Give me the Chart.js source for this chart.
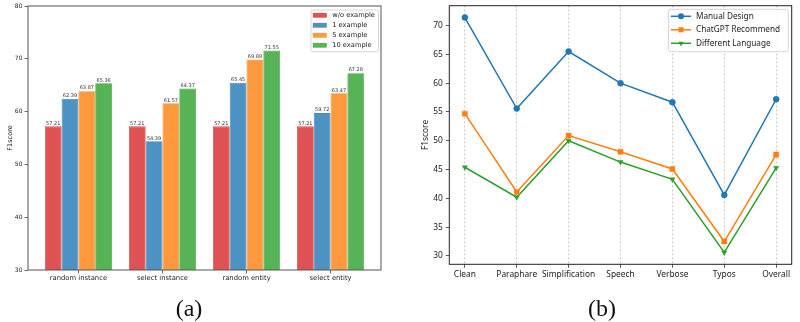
<!DOCTYPE html>
<html><head><meta charset="utf-8">
<script src="https://cdn.jsdelivr.net/npm/chart.js@4"></script>
<style>
html,body{margin:0;padding:0;background:#fff;width:800px;height:322px;overflow:hidden;}
#wa{position:absolute;left:0;top:0;width:400px;height:300px;}
#wb{position:absolute;left:400px;top:0;width:400px;height:300px;}
.cap{position:absolute;top:294px;font-family:"Liberation Serif",serif;font-size:24px;line-height:28px;width:60px;text-align:center;color:#111;}
</style></head><body>
<div id="wa"><canvas id="ca" width="400" height="300"></canvas></div>
<div id="wb"><canvas id="cb" width="400" height="300"></canvas></div>
<div class="cap" style="left:159px">(a)</div>
<div class="cap" style="left:572px">(b)</div>
<script>
// ---- data: chart (a)
const barCategories = ['random instance', 'select instance', 'random entity', 'select entity'];
const barSeriesNames = ['w/o example', '1 example', '5 example', '10 example'];
const woExample = [57.21, 57.21, 57.21, 57.21];
const oneExample = [62.39, 54.39, 65.45, 59.72];
const fiveExample = [63.87, 61.57, 69.88, 63.47];
const tenExample = [65.36, 64.37, 71.55, 67.28];
const barYTicks = [30, 40, 50, 60, 70, 80];

// ---- data: chart (b)
const lineCategories = ['Clean', 'Paraphare', 'Simplification', 'Speech', 'Verbose', 'Typos', 'Overall'];
const lineSeriesNames = ['Manual Design', 'ChatGPT Recommend', 'Different Language'];
const manualDesign = [71.4, 55.6, 65.5, 60.0, 56.7, 40.6, 57.21];
const chatgptRecommend = [54.7, 41.1, 50.9, 48.1, 45.1, 32.5, 47.6];
const differentLanguage = [45.4, 40.2, 50.0, 46.3, 43.3, 30.6, 45.3];
const lineYTicks = [30, 35, 40, 45, 50, 55, 60, 65, 70];

// ---- styles
const barFill = ['rgba(214,39,40,0.8)', 'rgba(31,119,180,0.8)', 'rgba(255,127,14,0.8)', 'rgba(44,160,44,0.8)'];
const barEdge = ['rgba(214,39,40,0.85)', 'rgba(31,119,180,0.85)', 'rgba(255,127,14,0.85)', 'rgba(44,160,44,0.85)'];
const lineColors = ['#1f77b4', '#ff7f0e', '#2ca02c'];
const lineMarkers = ['circle', 'rect', 'triangle'];

function fixY(w) { return s => { s.width = w; s.paddingTop = 0; s.paddingBottom = 0; s.paddingLeft = 0; s.paddingRight = 0; }; }
function fixX(h) { return s => { s.height = h; s.paddingTop = 0; s.paddingBottom = 0; s.paddingLeft = 0; s.paddingRight = 0; }; }

function framePlugin(color, lw) {
  return { id: 'frame', afterDraw(chart) {
    const a = chart.chartArea, c = chart.ctx;
    c.save(); c.strokeStyle = color; c.lineWidth = lw;
    c.strokeRect(a.left, a.top, a.right - a.left, a.bottom - a.top);
    c.restore();
  } };
}

function roundRect(c, x, y, w, h, r) {
  c.beginPath();
  c.moveTo(x + r, y); c.lineTo(x + w - r, y); c.quadraticCurveTo(x + w, y, x + w, y + r);
  c.lineTo(x + w, y + h - r); c.quadraticCurveTo(x + w, y + h, x + w - r, y + h);
  c.lineTo(x + r, y + h); c.quadraticCurveTo(x, y + h, x, y + h - r);
  c.lineTo(x, y + r); c.quadraticCurveTo(x, y, x + r, y); c.closePath();
}

function drawMarker(c, style, x, y, r, color) {
  c.save(); c.fillStyle = color; c.beginPath();
  if (style === 'circle') { c.arc(x, y, r, 0, Math.PI * 2); }
  else if (style === 'rect') { const s = r * Math.SQRT1_2; c.rect(x - s, y - s, 2 * s, 2 * s); }
  else { // triangle down
    c.moveTo(x - r * 0.87, y - r * 0.5); c.lineTo(x + r * 0.87, y - r * 0.5); c.lineTo(x, y + r); c.closePath();
  }
  c.fill(); c.restore();
}

const barLabelPlugin = { id: 'barLabels', afterDatasetsDraw(chart) {
  const c = chart.ctx;
  c.save(); c.font = '5px "DejaVu Sans"'; c.fillStyle = '#333'; c.textAlign = 'center'; c.textBaseline = 'bottom';
  chart.data.datasets.forEach((ds, k) => {
    chart.getDatasetMeta(k).data.forEach((el, i) => {
      c.fillText(ds.data[i].y.toFixed(2), el.x, el.y - 0.5);
    });
  });
  c.restore();
} };

const legendA = { id: 'legendA', afterDraw(chart) {
  const c = chart.ctx;
  c.save();
  roundRect(c, 311, 10, 67.5, 41.7, 2);
  c.fillStyle = 'rgba(255,255,255,0.8)'; c.fill();
  c.strokeStyle = '#cccccc'; c.lineWidth = 0.8; c.stroke();
  c.font = '6.7px "DejaVu Sans"'; c.textBaseline = 'middle'; c.textAlign = 'left';
  chart.data.datasets.forEach((ds, k) => {
    const y = 15.3 + k * 10;
    c.fillStyle = ds.backgroundColor; c.fillRect(312.8, y - 2.4, 14, 4.8);
    c.fillStyle = '#222'; c.fillText(ds.label, 332.2, y);
  });
  c.restore();
} };

const legendB = { id: 'legendB', afterDraw(chart) {
  const c = chart.ctx;
  c.save();
  roundRect(c, 268.5, 9.3, 119.8, 42.4, 2.5);
  c.fillStyle = 'rgba(255,255,255,0.8)'; c.fill();
  c.strokeStyle = '#cccccc'; c.lineWidth = 0.8; c.stroke();
  c.font = '8.2px "Noto Sans"'; c.textBaseline = 'middle'; c.textAlign = 'left';
  chart.data.datasets.forEach((ds, k) => {
    const y = 16.3 + k * 13.5;
    c.strokeStyle = ds.borderColor; c.lineWidth = 1.5;
    c.beginPath(); c.moveTo(271, y); c.lineTo(291, y); c.stroke();
    drawMarker(c, lineMarkers[k], 281, y, k === 1 ? 3.6 : 3, ds.borderColor);
    c.fillStyle = '#222'; c.fillText(ds.label, 296, y);
  });
  c.restore();
} };

// ---- chart (a)
const barSeries = [woExample, oneExample, fiveExample, tenExample];
new Chart(document.getElementById('ca'), {
  type: 'bar',
  data: { datasets: barSeries.map((vals, k) => ({
    label: barSeriesNames[k],
    data: vals.map((v, i) => ({ x: i, y: v })),
    backgroundColor: barFill[k], borderColor: barEdge[k], borderWidth: 0.8,
    categoryPercentage: 0.8, barPercentage: 1.0
  })) },
  options: {
    responsive: false, animation: false, devicePixelRatio: 1,
    layout: { padding: { left: 0, top: 6, right: 19, bottom: 0 } },
    plugins: { legend: { display: false }, tooltip: { enabled: false } },
    scales: {
      x: {
        type: 'linear', min: -0.6, max: 3.6, offset: false,
        afterBuildTicks: s => { s.ticks = barCategories.map((c, i) => ({ value: i })); },
        afterFit: fixX(30),
        ticks: { callback: v => barCategories[v], font: { family: 'DejaVu Sans', size: 6.8 }, color: '#222', padding: 1, maxRotation: 0, autoSkip: false },
        grid: { drawOnChartArea: false, drawTicks: true, tickLength: 3.5, tickColor: '#444', tickWidth: 0.8, offset: false },
        border: { display: false }
      },
      y: {
        min: 30, max: 80,
        afterBuildTicks: s => { s.ticks = barYTicks.map(v => ({ value: v })); },
        afterFit: fixY(28),
        ticks: { font: { family: 'DejaVu Sans', size: 6 }, color: '#222', padding: 2 },
        title: { display: true, text: 'F1score', font: { family: 'DejaVu Sans', size: 6.5 }, color: '#222', padding: { top: 6, bottom: 0 } },
        grid: { drawOnChartArea: false, drawTicks: true, tickLength: 3.5, tickColor: '#444', tickWidth: 0.8 },
        border: { display: false }
      }
    }
  },
  plugins: [barLabelPlugin, framePlugin('#555', 1), legendA]
});

// ---- chart (b)
const lineSeries = [manualDesign, chatgptRecommend, differentLanguage];
new Chart(document.getElementById('cb'), {
  type: 'line',
  data: { datasets: lineSeries.map((vals, k) => ({
    label: lineSeriesNames[k],
    data: vals.map((v, i) => ({ x: i, y: v })),
    borderColor: lineColors[k], backgroundColor: lineColors[k], borderWidth: 1.5,
    pointStyle: lineMarkers[k], pointRadius: k === 1 ? 3.6 : 3,
    pointRotation: k === 2 ? 180 : 0,
    pointBackgroundColor: lineColors[k], pointBorderColor: lineColors[k], pointBorderWidth: 0.5,
    fill: false, tension: 0
  })) },
  options: {
    responsive: false, animation: false, devicePixelRatio: 1,
    layout: { padding: { left: 0, top: 5.7, right: 8.3, bottom: 0 } },
    plugins: { legend: { display: false }, tooltip: { enabled: false } },
    scales: {
      x: {
        type: 'linear', min: -0.3, max: 6.3, offset: false,
        afterBuildTicks: s => { s.ticks = lineCategories.map((c, i) => ({ value: i })); },
        afterFit: fixX(35.7),
        ticks: { callback: v => lineCategories[v], font: { family: 'Noto Sans', size: 8.4 }, color: '#222', padding: 1.5, maxRotation: 0, autoSkip: false },
        grid: { drawOnChartArea: true, color: '#bdbdbd', lineWidth: 1, drawTicks: true, tickLength: 3.5, tickColor: '#333', tickWidth: 0.8, tickBorderDash: [] },
        border: { display: false, dash: [1.5, 2.5] }
      },
      y: {
        min: 28.55, max: 73.45,
        afterBuildTicks: s => { s.ticks = lineYTicks.map(v => ({ value: v })); },
        afterFit: fixY(49.3),
        ticks: { font: { family: 'Noto Sans', size: 8.4 }, color: '#222', padding: 3 },
        title: { display: true, text: 'F1score', font: { family: 'Noto Sans', size: 8.4 }, color: '#222', padding: { top: 21, bottom: 0 } },
        grid: { drawOnChartArea: false, drawTicks: true, tickLength: 3.5, tickColor: '#333', tickWidth: 0.8 },
        border: { display: false }
      }
    }
  },
  plugins: [framePlugin('#222', 1), legendB]
});
</script>
</body></html>
